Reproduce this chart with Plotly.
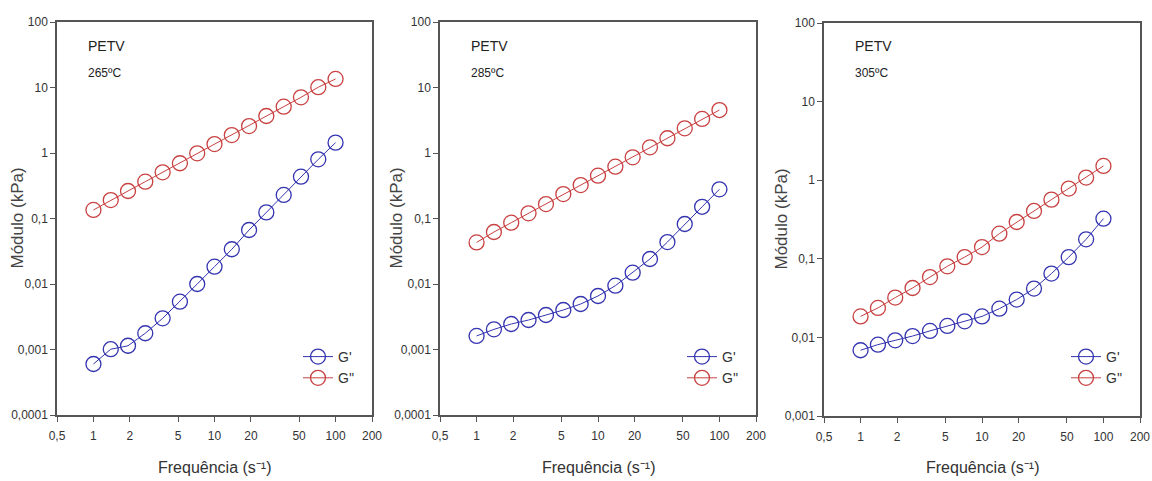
import plotly.graph_objects as go
import math

freq = [1, 1.39, 1.93, 2.68, 3.73, 5.18, 7.20, 10, 13.9, 19.3, 26.8, 37.3, 51.8, 72.0, 100]

g1_storage = [0.000601, 0.00101, 0.00114, 0.00177, 0.00299, 0.00537, 0.0100, 0.0184, 0.0339,
              0.0667, 0.124, 0.229, 0.435, 0.80, 1.44]
g1_loss = [0.135, 0.191, 0.263, 0.365, 0.507, 0.697, 0.99, 1.37, 1.88, 2.58, 3.67, 5.09, 7.08, 10.1, 13.5]

g2_storage = [0.00161, 0.00203, 0.00245, 0.00282, 0.00336, 0.00401, 0.00495, 0.00656, 0.00942,
              0.0149, 0.0241, 0.0437, 0.0824, 0.151, 0.279]
g2_loss = [0.0431, 0.0622, 0.0863, 0.120, 0.166, 0.236, 0.324, 0.450, 0.618, 0.859, 1.22, 1.68,
           2.38, 3.31, 4.53]

g3_storage = [0.00686, 0.00809, 0.00918, 0.0104, 0.0121, 0.0140, 0.0160, 0.0185, 0.0232, 0.0303,
              0.0418, 0.0649, 0.105, 0.177, 0.324]
g3_loss = [0.0185, 0.0237, 0.0321, 0.0425, 0.0586, 0.0803, 0.105, 0.141, 0.209, 0.294, 0.406,
           0.566, 0.782, 1.08, 1.52]

temps = ["265ºC", "285ºC", "305ºC"]
x_tickvals = [0.5, 1, 2, 5, 10, 20, 50, 100, 200]
x_ticktext = ["0,5", "1", "2", "5", "10", "20", "50", "100", "200"]
y_tickvals_a = [0.0001, 0.001, 0.01, 0.1, 1, 10, 100]
y_ticktext_a = ["0,0001", "0,001", "0,01", "0,1", "1", "10", "100"]
y_tickvals_b = [0.001, 0.01, 0.1, 1, 10, 100]
y_ticktext_b = ["0,001", "0,01", "0,1", "1", "10", "100"]

W, H = 1152, 481
BLUE = "#3434b0"
RED = "#c84040"
AX = "#555555"
TXT = "#333333"
SANS = "Liberation Sans, Arial, sans-serif"

panels = [
    dict(st=g1_storage, lo=g1_loss, x0=57, x1=372, y0=22, y1=415, yv=y_tickvals_a, yt=y_ticktext_a,
         yr=[-4, 2], ytx=17),
    dict(st=g2_storage, lo=g2_loss, x0=440, x1=756, y0=22, y1=415, yv=y_tickvals_a, yt=y_ticktext_a,
         yr=[-4, 2], ytx=396),
    dict(st=g3_storage, lo=g3_loss, x0=824, x1=1140, y0=23, y1=416, yv=y_tickvals_b, yt=y_ticktext_b,
         yr=[-3, 2], ytx=781),
]

fig = go.Figure()
layout = {}
annotations = []
for i, p in enumerate(panels):
    n = "" if i == 0 else str(i + 1)
    xa, ya = "x" + n, "y" + n
    leg = "legend" + n
    fig.add_trace(go.Scatter(x=freq, y=p["st"], mode="lines+markers", name="G'",
                             xaxis=xa, yaxis=ya, legend=leg,
                             line=dict(color=BLUE, width=1),
                             marker=dict(symbol="circle-open", size=15, color=BLUE, line=dict(width=1.3))))
    fig.add_trace(go.Scatter(x=freq, y=p["lo"], mode="lines+markers", name="G''",
                             xaxis=xa, yaxis=ya, legend=leg,
                             line=dict(color=RED, width=1),
                             marker=dict(symbol="circle-open", size=15, color=RED, line=dict(width=1.3))))
    dx = [p["x0"] / W, p["x1"] / W]
    dy = [1 - p["y1"] / H, 1 - p["y0"] / H]
    layout["xaxis" + n] = dict(
        domain=dx, type="log", range=[math.log10(0.5), math.log10(200)], anchor=ya,
        tickvals=x_tickvals, ticktext=x_ticktext, ticks="outside", ticklen=5, tickwidth=1,
        tickcolor=AX, showline=True, linecolor=AX, linewidth=1.5, mirror=True,
        showgrid=False, zeroline=False, automargin=False, ticklabelstandoff=4,
        tickfont=dict(family=SANS, size=12, color=TXT),
    )
    layout["yaxis" + n] = dict(
        domain=dy, type="log", range=p["yr"], anchor=xa,
        tickvals=p["yv"], ticktext=p["yt"], ticks="outside", ticklen=5, tickwidth=1,
        tickcolor=AX, showline=True, linecolor=AX, linewidth=1.5, mirror=True,
        showgrid=False, zeroline=False, automargin=False,
        tickfont=dict(family=SANS, size=12, color=TXT),
    )
    layout[leg] = dict(
        x=(p["x1"] - 74) / W, y=1 - 341 / H, xanchor="left", yanchor="top",
        bgcolor="rgba(0,0,0,0)", borderwidth=0, tracegroupgap=0,
        font=dict(family=SANS, size=14, color=TXT), itemwidth=30,
    )
    # axis titles
    annotations.append(dict(text="Frequência (s⁻¹)", x=(p["x0"] + p["x1"]) / 2 / W, y=1 - 467 / H,
                            xref="paper", yref="paper", xanchor="center", yanchor="middle",
                            showarrow=False, font=dict(family=SANS, size=16, color=TXT)))
    annotations.append(dict(text="Módulo (kPa)", x=p["ytx"] / W, y=1 - ((p["y0"] + p["y1"]) / 2) / H,
                            xref="paper", yref="paper", xanchor="center", yanchor="middle",
                            textangle=-90, showarrow=False,
                            font=dict(family=SANS, size=17, color="#444444")))
    annotations.append(dict(text="PETV", x=(p["x0"] + 29) / W, y=1 - 46 / H, xref="paper", yref="paper",
                            xanchor="left", yanchor="middle", showarrow=False,
                            font=dict(family=SANS, size=14, color="#222222")))
    annotations.append(dict(text=temps[i], x=(p["x0"] + 29) / W, y=1 - 73 / H, xref="paper", yref="paper",
                            xanchor="left", yanchor="middle", showarrow=False,
                            font=dict(family=SANS, size=12, color="#222222")))

fig.update_layout(
    width=W, height=H, margin=dict(l=0, r=0, t=0, b=0, autoexpand=False),
    paper_bgcolor="white", plot_bgcolor="white",
    showlegend=True, annotations=annotations, **layout,
)
fig.write_html("out.html")
